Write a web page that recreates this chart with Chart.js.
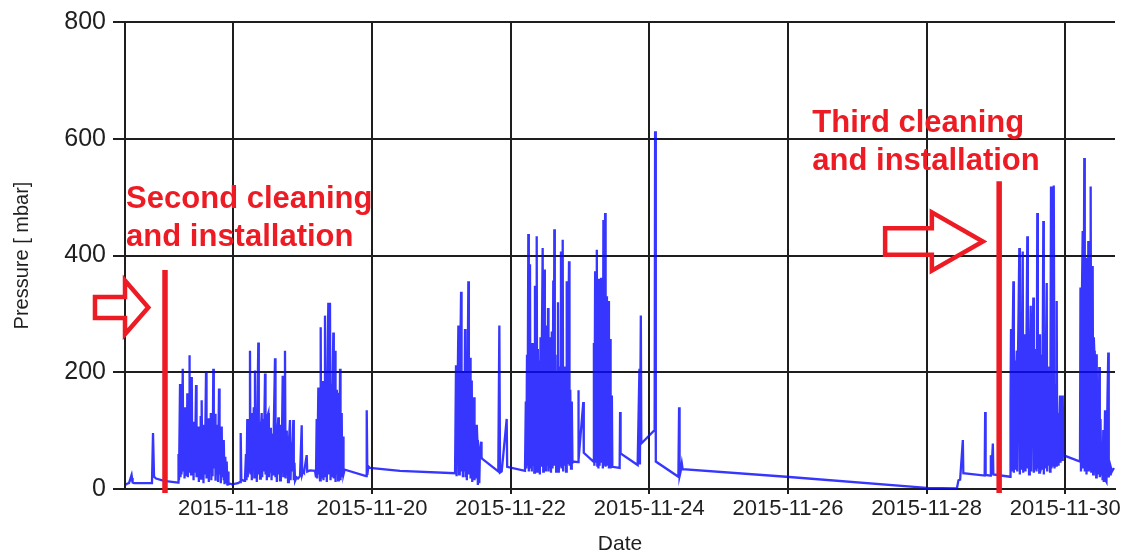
<!DOCTYPE html>
<html>
<head>
<meta charset="utf-8">
<script src="https://cdn.jsdelivr.net/npm/chart.js@4.4.1/dist/chart.umd.min.js"></script>
<style>
  html, body { margin: 0; padding: 0; background: #ffffff; }
  #c { display: block; }
</style>
</head>
<body>
<canvas id="c" width="1125" height="557"></canvas>
<script>
// ---- Data: time as day of November 2015 (decimal), pressure in mbar ----
const startReadings = [[16.45,7],[16.466,9],[16.495,10],[16.524,21],[16.531,13],[16.538,19],[16.547,11],[16.567,10],[16.826,10],[16.841,96],[16.856,21],[16.885,18],[17.0,14],[17.202,11]];

const episode1 = [[17.209,60],[17.216,15],[17.231,180],[17.238,20],[17.245,110],[17.252,25],[17.270,206],[17.277,30],[17.289,95],[17.296,18],[17.303,140],[17.310,22],[17.321,120],[17.328,35],[17.336,164],[17.344,20],[17.353,100],[17.361,30],[17.365,229],[17.372,40],[17.382,130],[17.390,25],[17.400,192],[17.407,35],[17.419,90],[17.426,15],[17.436,115],[17.445,28],[17.462,178],[17.469,20],[17.479,95],[17.486,30],[17.495,107],[17.502,12],[17.512,80],[17.519,25],[17.529,125],[17.536,18],[17.543,152],[17.551,30],[17.562,95],[17.569,10],[17.579,110],[17.588,25],[17.606,200],[17.613,18],[17.623,85],[17.632,30],[17.639,121],[17.646,12],[17.656,95],[17.663,28],[17.675,130],[17.682,15],[17.692,100],[17.700,22],[17.711,206],[17.718,35],[17.727,75],[17.736,129],[17.743,14],[17.753,110],[17.762,25],[17.772,90],[17.779,12],[17.793,172],[17.801,25],[17.811,80],[17.819,10],[17.832,107],[17.839,20],[17.851,65],[17.858,15],[17.865,84],[17.873,8],[17.884,55],[17.894,12],[17.904,47],[17.913,6],[17.923,30],[17.930,8],[17.952,9],[17.981,8],[18.067,10],[18.096,12],[18.106,96],[18.115,16],[18.154,14]];

const episode2 = [[18.168,18],[18.182,60],[18.190,15],[18.201,120],[18.208,20],[18.218,100],[18.226,30],[18.240,237],[18.247,25],[18.259,130],[18.266,15],[18.276,110],[18.283,35],[18.295,140],[18.302,20],[18.312,203],[18.319,30],[18.331,125],[18.338,12],[18.348,135],[18.360,251],[18.367,25],[18.377,115],[18.385,18],[18.396,100],[18.409,130],[18.416,20],[18.428,120],[18.435,30],[18.445,95],[18.457,198],[18.464,25],[18.475,110],[18.483,15],[18.493,125],[18.505,130],[18.512,20],[18.522,85],[18.529,30],[18.541,105],[18.551,15],[18.562,95],[18.572,25],[18.584,110],[18.601,224],[18.608,20],[18.620,90],[18.627,12],[18.637,100],[18.649,123],[18.656,25],[18.666,80],[18.673,15],[18.685,110],[18.695,28],[18.712,194],[18.720,20],[18.731,95],[18.745,237],[18.753,18],[18.764,100],[18.771,25],[18.782,90],[18.789,12],[18.800,75],[18.817,118],[18.825,15],[18.836,80],[18.843,30],[18.865,118],[18.872,15],[18.882,45],[18.890,14],[18.911,20],[18.933,18],[18.962,22],[18.986,109],[18.993,25],[19.005,30],[19.019,28],[19.058,58],[19.066,30],[19.106,32],[19.178,31]];

const episode3 = [[19.192,20],[19.202,120],[19.210,18],[19.226,174],[19.233,25],[19.243,160],[19.250,15],[19.260,277],[19.267,30],[19.276,170],[19.283,20],[19.293,185],[19.300,15],[19.311,165],[19.322,297],[19.329,20],[19.339,175],[19.348,12],[19.358,200],[19.370,319],[19.377,25],[19.384,170],[19.394,319],[19.402,15],[19.412,180],[19.420,20],[19.430,160],[19.442,268],[19.449,18],[19.458,150],[19.467,237],[19.474,12],[19.484,170],[19.493,25],[19.503,140],[19.510,15],[19.521,165],[19.529,20],[19.539,206],[19.546,15],[19.556,110],[19.563,130],[19.570,20],[19.582,90],[19.589,25],[19.603,32],[19.611,33],[19.914,22],[19.924,135],[19.933,24],[19.947,39],[19.971,36],[20.404,31],[21.198,27]];

const episode4 = [[21.212,212],[21.220,22],[21.234,160],[21.246,280],[21.256,25],[21.266,150],[21.285,338],[21.292,30],[21.302,200],[21.311,20],[21.321,180],[21.331,30],[21.342,274],[21.349,20],[21.360,190],[21.368,15],[21.378,160],[21.390,356],[21.397,25],[21.406,170],[21.414,225],[21.422,18],[21.432,140],[21.439,186],[21.446,12],[21.458,120],[21.472,157],[21.479,15],[21.491,90],[21.501,20],[21.511,110],[21.520,84],[21.527,7],[21.537,60],[21.548,10],[21.558,70],[21.573,81],[21.580,55],[21.587,52],[21.822,30],[21.837,280],[21.847,28],[21.871,30],[21.943,120],[21.950,38],[22.207,31]];

const episode5 = [[22.219,150],[22.226,35],[22.236,230],[22.243,40],[22.255,437],[22.262,30],[22.270,240],[22.279,385],[22.286,35],[22.296,220],[22.305,30],[22.315,250],[22.322,40],[22.333,210],[22.341,28],[22.351,348],[22.358,35],[22.367,230],[22.376,433],[22.383,30],[22.393,240],[22.402,35],[22.412,220],[22.421,25],[22.431,260],[22.438,40],[22.449,230],[22.462,413],[22.470,30],[22.478,260],[22.485,376],[22.493,35],[22.503,250],[22.510,30],[22.521,280],[22.529,40],[22.539,310],[22.546,30],[22.556,260],[22.565,35],[22.575,240],[22.582,28],[22.594,270],[22.604,35],[22.615,357],[22.622,40],[22.630,445],[22.637,40],[22.647,230],[22.657,30],[22.666,200],[22.676,35],[22.683,320],[22.695,28],[22.702,210],[22.712,40],[22.726,407],[22.734,35],[22.744,200],[22.751,427],[22.758,30],[22.770,180],[22.777,40],[22.788,210],[22.799,30],[22.809,356],[22.816,45],[22.827,190],[22.842,390],[22.849,40],[22.860,170],[22.871,35],[22.882,150],[22.892,45],[22.904,47],[22.972,46],[22.976,169],[22.983,50],[23.048,149],[23.055,62],[23.194,47]];

const episode6 = [[23.201,250],[23.208,40],[23.219,373],[23.226,45],[23.233,300],[23.243,410],[23.250,40],[23.259,340],[23.266,35],[23.276,360],[23.283,40],[23.294,330],[23.305,362],[23.312,45],[23.322,340],[23.330,35],[23.338,461],[23.345,40],[23.354,350],[23.363,473],[23.370,38],[23.380,330],[23.389,40],[23.399,300],[23.410,322],[23.418,35],[23.428,200],[23.435,257],[23.442,35],[23.452,120],[23.460,160],[23.467,38],[23.572,36],[23.579,132],[23.586,61],[23.832,41],[23.858,206],[23.865,42],[23.878,297],[23.885,78],[24.077,101],[24.084,613],[24.094,47],[24.420,21],[24.430,140],[24.437,22],[24.452,30],[24.469,44],[24.481,34],[25.974,21],[28.004,2],[28.437,1]];

const episode7 = [[28.460,15],[28.484,16],[28.523,84],[28.530,27],[28.838,23],[28.845,132],[28.852,24],[28.917,23],[28.927,58],[28.934,25],[28.956,78],[28.963,25],[29.204,21],[29.211,150],[29.218,274],[29.226,30],[29.236,200],[29.252,356],[29.259,28],[29.269,220],[29.276,35],[29.288,180],[29.301,237],[29.308,30],[29.319,230],[29.338,413],[29.345,25],[29.355,210],[29.363,35],[29.374,240],[29.387,407],[29.394,28],[29.406,200],[29.420,265],[29.427,30],[29.439,220],[29.453,433],[29.461,35],[29.471,210],[29.478,25],[29.489,230],[29.502,314],[29.510,30],[29.521,200],[29.540,328],[29.547,28],[29.557,220],[29.564,35],[29.576,240],[29.586,30],[29.597,473],[29.605,35],[29.615,210],[29.625,28],[29.636,265],[29.644,30],[29.655,230],[29.665,35],[29.674,200],[29.684,459],[29.691,25],[29.701,190],[29.708,35],[29.720,220],[29.733,353],[29.740,30],[29.752,200],[29.760,40],[29.770,210],[29.781,30],[29.788,240],[29.795,518],[29.802,35],[29.814,200],[29.824,40],[29.831,260],[29.838,520],[29.846,35],[29.857,180],[29.867,40],[29.877,322],[29.884,45],[29.896,130],[29.904,40],[29.915,110],[29.925,160],[29.932,45],[29.944,100],[29.954,50],[29.964,160],[29.971,58],[30.213,47]];

const episode8 = [[30.220,345],[30.227,30],[30.238,300],[30.252,442],[30.259,35],[30.275,567],[30.282,30],[30.291,320],[30.300,396],[30.307,25],[30.317,330],[30.326,40],[30.333,425],[30.340,30],[30.350,340],[30.360,35],[30.367,518],[30.375,30],[30.386,280],[30.396,382],[30.403,25],[30.412,260],[30.419,237],[30.426,30],[30.437,200],[30.447,20],[30.454,231],[30.463,30],[30.473,150],[30.481,25],[30.491,209],[30.499,20],[30.509,120],[30.519,25],[30.530,80],[30.539,15],[30.549,101],[30.556,12],[30.566,60],[30.574,135],[30.581,15],[30.595,12],[30.610,160],[30.621,234],[30.628,20],[30.638,40],[30.648,25],[30.656,38],[30.674,30],[30.703,36]];

// axis
const xMinDay = 16.437;
const xMaxDay = 30.718;
const tickDays = [18, 20, 22, 24, 26, 28, 30];
const yTicks = [0, 200, 400, 600, 800];

// annotations (data units)
const eventDays = [17.014, 29.047];
const eventLineTopMbar = [375, 527];
const eventLabelLines = [["Second cleaning", "and installation"], ["Third cleaning", "and installation"]];
const eventLabelDay = [16.453, 26.352];
const eventLabelMbar = [481, 612];
const arrowTailDay = [16.004, 27.402];
const arrowHeadBaseDay = [16.437, 28.076];
const arrowTipDay = [16.773, 28.812];
const arrowMidMbar = [311, 424];
const arrowBodyHalfMbar = [18, 22.7];
const arrowHeadHalfMbar = [46, 50];

const readings = [].concat(startReadings, episode1, episode2, episode3, episode4, episode5, episode6, episode7, episode8);

const FONT = '"Liberation Sans", Arial, sans-serif';
const GRID = '#1e1e1e';
const TEXT = '#1f1f1f';
const RED = '#ed1c24';

const cleaningNotes = {
  id: 'cleaningNotes',
  afterDatasetsDraw(chart) {
    const { ctx, chartArea } = chart;
    const x = chart.scales.x, y = chart.scales.y;
    ctx.save();
    ctx.strokeStyle = RED;
    ctx.fillStyle = RED;
    eventDays.forEach((d, i) => {
      const px = x.getPixelForValue(d);
      ctx.lineWidth = 5.5;
      ctx.beginPath();
      ctx.moveTo(px, y.getPixelForValue(eventLineTopMbar[i]));
      ctx.lineTo(px, chartArea.bottom + 4);
      ctx.stroke();
    });
    arrowTailDay.forEach((d, i) => {
      const xt = x.getPixelForValue(arrowTailDay[i]);
      const xb = x.getPixelForValue(arrowHeadBaseDay[i]);
      const xp = x.getPixelForValue(arrowTipDay[i]);
      const yc = y.getPixelForValue(arrowMidMbar[i]);
      const bh = y.getPixelForValue(arrowMidMbar[i] - arrowBodyHalfMbar[i]) - yc;
      const hh = y.getPixelForValue(arrowMidMbar[i] - arrowHeadHalfMbar[i]) - yc;
      ctx.lineWidth = 4.5;
      ctx.lineJoin = 'miter';
      ctx.beginPath();
      ctx.moveTo(xt, yc - bh);
      ctx.lineTo(xb, yc - bh);
      ctx.lineTo(xb, yc - hh);
      ctx.lineTo(xp, yc);
      ctx.lineTo(xb, yc + hh);
      ctx.lineTo(xb, yc + bh);
      ctx.lineTo(xt, yc + bh);
      ctx.closePath();
      ctx.stroke();
    });
    ctx.font = 'bold 31px ' + FONT;
    ctx.textAlign = 'left';
    ctx.textBaseline = 'alphabetic';
    eventLabelLines.forEach((lines, i) => {
      const lx = x.getPixelForValue(eventLabelDay[i]);
      const ly = y.getPixelForValue(eventLabelMbar[i]);
      lines.forEach((t, j) => ctx.fillText(t, lx, ly + j * 38));
    });
    ctx.restore();
  }
};

new Chart(document.getElementById('c'), {
  type: 'line',
  data: {
    datasets: [{
      label: 'Pressure',
      data: readings.map(([d, v]) => ({ x: d, y: v })),
      borderColor: 'rgba(10,10,255,0.82)',
      borderWidth: 2.3,
      pointRadius: 0,
      fill: false,
      tension: 0
    }]
  },
  options: {
    responsive: false,
    animation: false,
    devicePixelRatio: 1,
    layout: { padding: { top: 20, right: 10, left: 0, bottom: 0 } },
    plugins: { legend: { display: false }, tooltip: { enabled: false } },
    scales: {
      x: {
        type: 'linear',
        min: xMinDay,
        max: xMaxDay,
        afterBuildTicks: s => { s.ticks = tickDays.map(v => ({ value: v })); },
        afterFit: s => { s.height = 68; },
        grid: { color: GRID, lineWidth: 2, tickLength: 5, drawTicks: true },
        border: { display: true, color: GRID, width: 2 },
        ticks: {
          callback: v => '2015-11-' + v,
          font: { family: FONT, size: 22 },
          color: TEXT,
          padding: 2,
          maxRotation: 0,
          autoSkip: false
        },
        title: { display: true, text: 'Date', font: { family: FONT, size: 21 }, color: TEXT, padding: { top: 0, bottom: 0 } }
      },
      y: {
        type: 'linear',
        min: 0,
        max: 800,
        afterBuildTicks: s => { s.ticks = yTicks.map(v => ({ value: v })); },
        afterFit: s => { s.width = 125; },
        grid: { color: GRID, lineWidth: 2, tickLength: 12, drawTicks: true },
        border: { display: true, color: GRID, width: 2 },
        ticks: { font: { family: FONT, size: 25 }, color: TEXT, padding: 7 },
        title: { display: true, text: 'Pressure [ mbar]', font: { family: FONT, size: 20 }, color: TEXT, padding: { top: 10, bottom: 0 } }
      }
    }
  },
  plugins: [cleaningNotes]
});
</script>
</body>
</html>
